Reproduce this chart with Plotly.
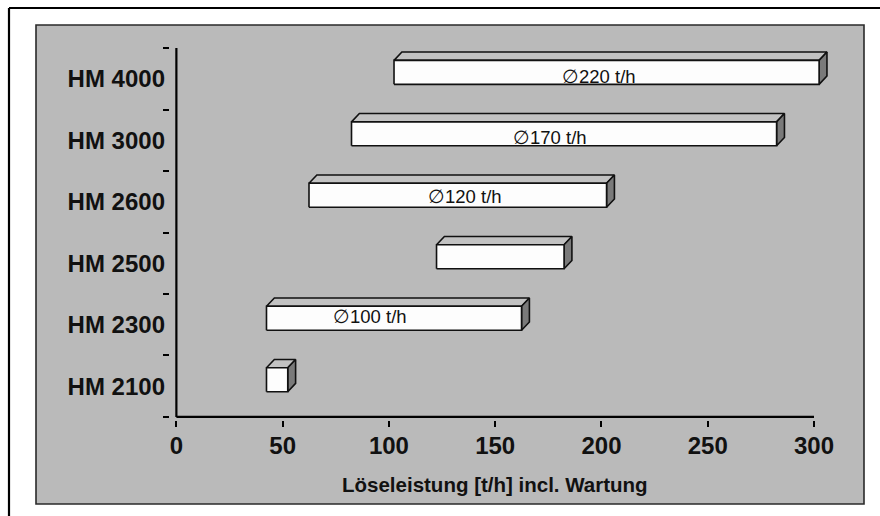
import plotly.graph_objects as go

# ---- data ----
categories = ["HM 2100", "HM 2300", "HM 2500", "HM 2600", "HM 3000", "HM 4000"]
range_start = [40, 40, 120, 60, 80, 100]
range_end = [50, 160, 180, 200, 280, 300]
label_text = ["", "\u2205100 t/h", "", "\u2205120 t/h", "\u2205170 t/h", "\u2205220 t/h"]
label_x = [None, 91, None, 136, 176, 199]
x_ticks = [0, 50, 100, 150, 200, 250, 300]
x_title = "Löseleistung [t/h] incl. Wartung"

# ---- 3D look (styling) ----
FRONT_SHIFT = 2.4      # front face shift (x units)
DEPTH_X = 3.7          # depth offset (x units)
DEPTH_Y = 0.135        # depth offset (category units)
FACE_BOTTOM = -0.09
FACE_TOP = 0.30
label_dy = [0, 0.14, 0, 0.08, 0.04, 0.04]

FONT = "Liberation Sans, Arial, sans-serif"

W, H = 880, 516
ML, MR, MT, MB = 170, 49, 45, 96
PW, PH = W - ML - MR, H - MT - MB


def px2x(px):
    return (px - ML) / PW


def px2y(py):
    return (H - MB - py) / PH


fig = go.Figure()

for i, cat in enumerate(categories):
    x0 = range_start[i] + FRONT_SHIFT
    x1 = range_end[i] + FRONT_SHIFT
    yb = i + FACE_BOTTOM
    yt = i + FACE_TOP
    # top face
    fig.add_trace(go.Scatter(
        x=[x0, x1, x1 + DEPTH_X, x0 + DEPTH_X, x0],
        y=[yt, yt, yt + DEPTH_Y, yt + DEPTH_Y, yt],
        mode="lines", fill="toself", fillcolor="#c2c2c2",
        line=dict(color="#111111", width=1.6), hoverinfo="skip", showlegend=False))
    # side face
    fig.add_trace(go.Scatter(
        x=[x1, x1 + DEPTH_X, x1 + DEPTH_X, x1, x1],
        y=[yb, yb + DEPTH_Y, yt + DEPTH_Y, yt, yb],
        mode="lines", fill="toself", fillcolor="#7a7a7a",
        line=dict(color="#111111", width=1.6), hoverinfo="skip", showlegend=False))
    # front face
    fig.add_trace(go.Scatter(
        x=[x0, x1, x1, x0, x0],
        y=[yb, yb, yt, yt, yb],
        mode="lines", fill="toself", fillcolor="#fdfdfd",
        line=dict(color="#111111", width=1.6), hoverinfo="skip", showlegend=False))

annotations = []
for i, t in enumerate(label_text):
    if t:
        annotations.append(dict(
            x=label_x[i], y=i + label_dy[i], xref="x", yref="y", text=t,
            showarrow=False, xanchor="center", yanchor="middle",
            font=dict(family=FONT, size=18.5, color="#111111")))

annotations.append(dict(
    x=150, y=px2y(484), xref="x", yref="paper", text=x_title,
    showarrow=False, xanchor="center", yanchor="middle",
    font=dict(family=FONT, size=20.5, color="#111111", weight="bold")))

shapes = [
    # gray panel
    dict(type="rect", xref="paper", yref="paper",
         x0=px2x(36), x1=px2x(864), y0=px2y(504), y1=px2y(25),
         line=dict(color="#2a2a2a", width=1.6), fillcolor="#bababa", layer="below"),
    # outer frame (top and left edges; the rest lies outside the picture)
    dict(type="line", xref="paper", yref="paper",
         x0=px2x(9), x1=px2x(W), y0=px2y(8), y1=px2y(8),
         line=dict(color="black", width=2.2), layer="below"),
    dict(type="line", xref="paper", yref="paper",
         x0=px2x(9), x1=px2x(9), y0=px2y(8), y1=px2y(H),
         line=dict(color="black", width=2.2), layer="below"),
    # axis lines
    dict(type="line", xref="x", yref="y", x0=x_ticks[0], x1=x_ticks[-1], y0=-0.5, y1=-0.5,
         line=dict(color="black", width=2.2), layer="above"),
    dict(type="line", xref="x", yref="y", x0=0, x1=0, y0=-0.5, y1=len(categories) - 0.5,
         line=dict(color="black", width=2.2), layer="above"),
]

fig.update_layout(
    width=W, height=H,
    margin=dict(l=ML, r=MR, t=MT, b=MB, pad=0),
    paper_bgcolor="white", plot_bgcolor="rgba(0,0,0,0)",
    showlegend=False,
    shapes=shapes, annotations=annotations,
    xaxis=dict(range=[-3, 308], tickvals=x_ticks, ticktext=[str(v) for v in x_ticks],
               ticks="outside", ticklen=6, tickwidth=2, tickcolor="black",
               showline=False, showgrid=False, zeroline=False,
               tickfont=dict(family=FONT, size=24, color="#111111", weight="bold"),
               ticklabelstandoff=-2),
    yaxis=dict(range=[-0.55, 5.55], tickvals=list(range(len(categories))),
               ticktext=categories,
               ticks="", showline=False, showgrid=False, zeroline=False,
               tickfont=dict(family=FONT, size=24, color="#111111", weight="bold"),
               ticklabelstandoff=4,
               minor=dict(tickvals=[k - 0.5 for k in range(len(categories) + 1)],
                          ticks="outside", ticklen=6, tickwidth=2, tickcolor="black",
                          showgrid=False)),
)

fig.write_html("out.html")
